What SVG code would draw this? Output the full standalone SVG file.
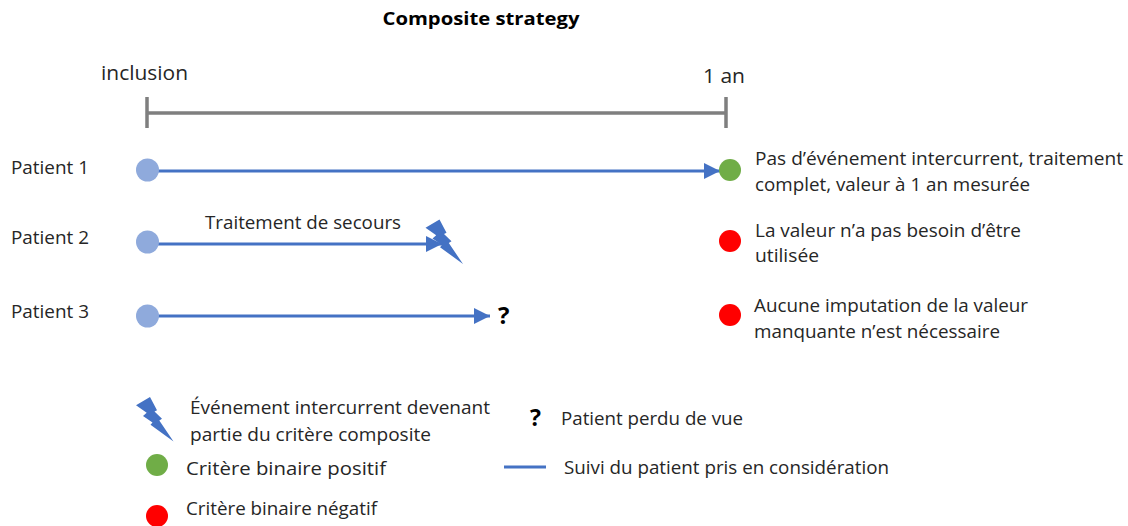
<svg xmlns="http://www.w3.org/2000/svg" width="1128" height="526" viewBox="0 0 1128 526">
<style>
text{font-family:"Open Sans","Noto Sans","Liberation Sans",sans-serif;font-size:18px;fill:#262626}
.b{font-weight:700;fill:#000}
.line{stroke:#4472c4;stroke-width:3;fill:none}
.scale{stroke:#7f7f7f;stroke-width:3.500;fill:none}
.start{fill:#8faadc}
.pos{fill:#70ad47}
.neg{fill:#ff0000}
.bolt{fill:#4472c4}
</style>
<defs>
<marker id="arrow" markerUnits="userSpaceOnUse" markerWidth="17" markerHeight="18" refX="16" refY="9" orient="auto"><path d="M0 1L16 9L0 17z" fill="#4472c4"/></marker>
<polygon id="boltshape" points="136,405.300 150,397 157,410.300 154.500,411.500 162,418.700 159.300,420.500 173.500,441.500 150.500,424.700 152.500,422.500 143,416 146.700,412.700"/>
</defs>
<text x="481" y="25" text-anchor="middle" class="b" style="font-size:18.500px" textLength="197" lengthAdjust="spacingAndGlyphs">Composite strategy</text>
<g id="scale">
<text x="101" y="80" style="font-size:20.500px" textLength="87" lengthAdjust="spacingAndGlyphs">inclusion</text>
<text x="703" y="83" style="font-size:20.500px" textLength="42" lengthAdjust="spacingAndGlyphs">1 an</text>
<path class="scale" d="M147 97V128M726 97V128M147 113H726"/>
</g>
<g id="connectors">
<path class="line" d="M147 171H720" marker-end="url(#arrow)"/>
<path class="line" d="M147 244H442" marker-end="url(#arrow)"/>
<path class="line" d="M147 316H490" marker-end="url(#arrow)"/>
</g>
<g id="patient1">
<text x="11" y="174" textLength="78" lengthAdjust="spacingAndGlyphs">Patient 1</text>
<circle class="start" cx="147.500" cy="170" r="11.500"/>
<circle class="pos" cx="730" cy="170" r="11"/>
<text x="755" y="165" textLength="368" lengthAdjust="spacingAndGlyphs">Pas d’événement intercurrent, traitement</text>
<text x="755" y="191" textLength="275" lengthAdjust="spacingAndGlyphs">complet, valeur à 1 an mesurée</text>
</g>
<g id="patient2">
<text x="11" y="244" textLength="78" lengthAdjust="spacingAndGlyphs">Patient 2</text>
<circle class="start" cx="147.500" cy="242" r="11.500"/>
<text x="205" y="229" textLength="196" lengthAdjust="spacingAndGlyphs">Traitement de secours</text>
<use href="#boltshape" class="bolt" transform="translate(289.500,-177.500)"/>
<circle class="neg" cx="730" cy="241" r="11"/>
<text x="755" y="237" textLength="266" lengthAdjust="spacingAndGlyphs">La valeur n’a pas besoin d’être</text>
<text x="755" y="262" textLength="64" lengthAdjust="spacingAndGlyphs">utilisée</text>
</g>
<g id="patient3">
<text x="11" y="318" textLength="78" lengthAdjust="spacingAndGlyphs">Patient 3</text>
<circle class="start" cx="147.500" cy="316" r="11.500"/>
<text x="498" y="324" class="b" style="font-size:24px">?</text>
<circle class="neg" cx="730" cy="315" r="11"/>
<text x="754" y="312" textLength="274" lengthAdjust="spacingAndGlyphs">Aucune imputation de la valeur</text>
<text x="754" y="338" textLength="246" lengthAdjust="spacingAndGlyphs">manquante n’est nécessaire</text>
</g>
<g id="legend">
<use href="#boltshape" class="bolt"/>
<text x="190" y="414" textLength="300" lengthAdjust="spacingAndGlyphs">Événement intercurrent devenant</text>
<text x="190" y="441" textLength="241" lengthAdjust="spacingAndGlyphs">partie du critère composite</text>
<text x="530" y="426" class="b" style="font-size:23px">?</text>
<text x="561" y="425" textLength="182" lengthAdjust="spacingAndGlyphs">Patient perdu de vue</text>
<circle class="pos" cx="157" cy="465" r="11"/>
<text x="186" y="475" textLength="200" lengthAdjust="spacingAndGlyphs">Critère binaire positif</text>
<path class="line" d="M504 467H546"/>
<text x="564" y="474" textLength="325" lengthAdjust="spacingAndGlyphs">Suivi du patient pris en considération</text>
<circle class="neg" cx="157" cy="516" r="11"/>
<text x="186" y="515" textLength="191" lengthAdjust="spacingAndGlyphs">Critère binaire négatif</text>
</g>
</svg>
